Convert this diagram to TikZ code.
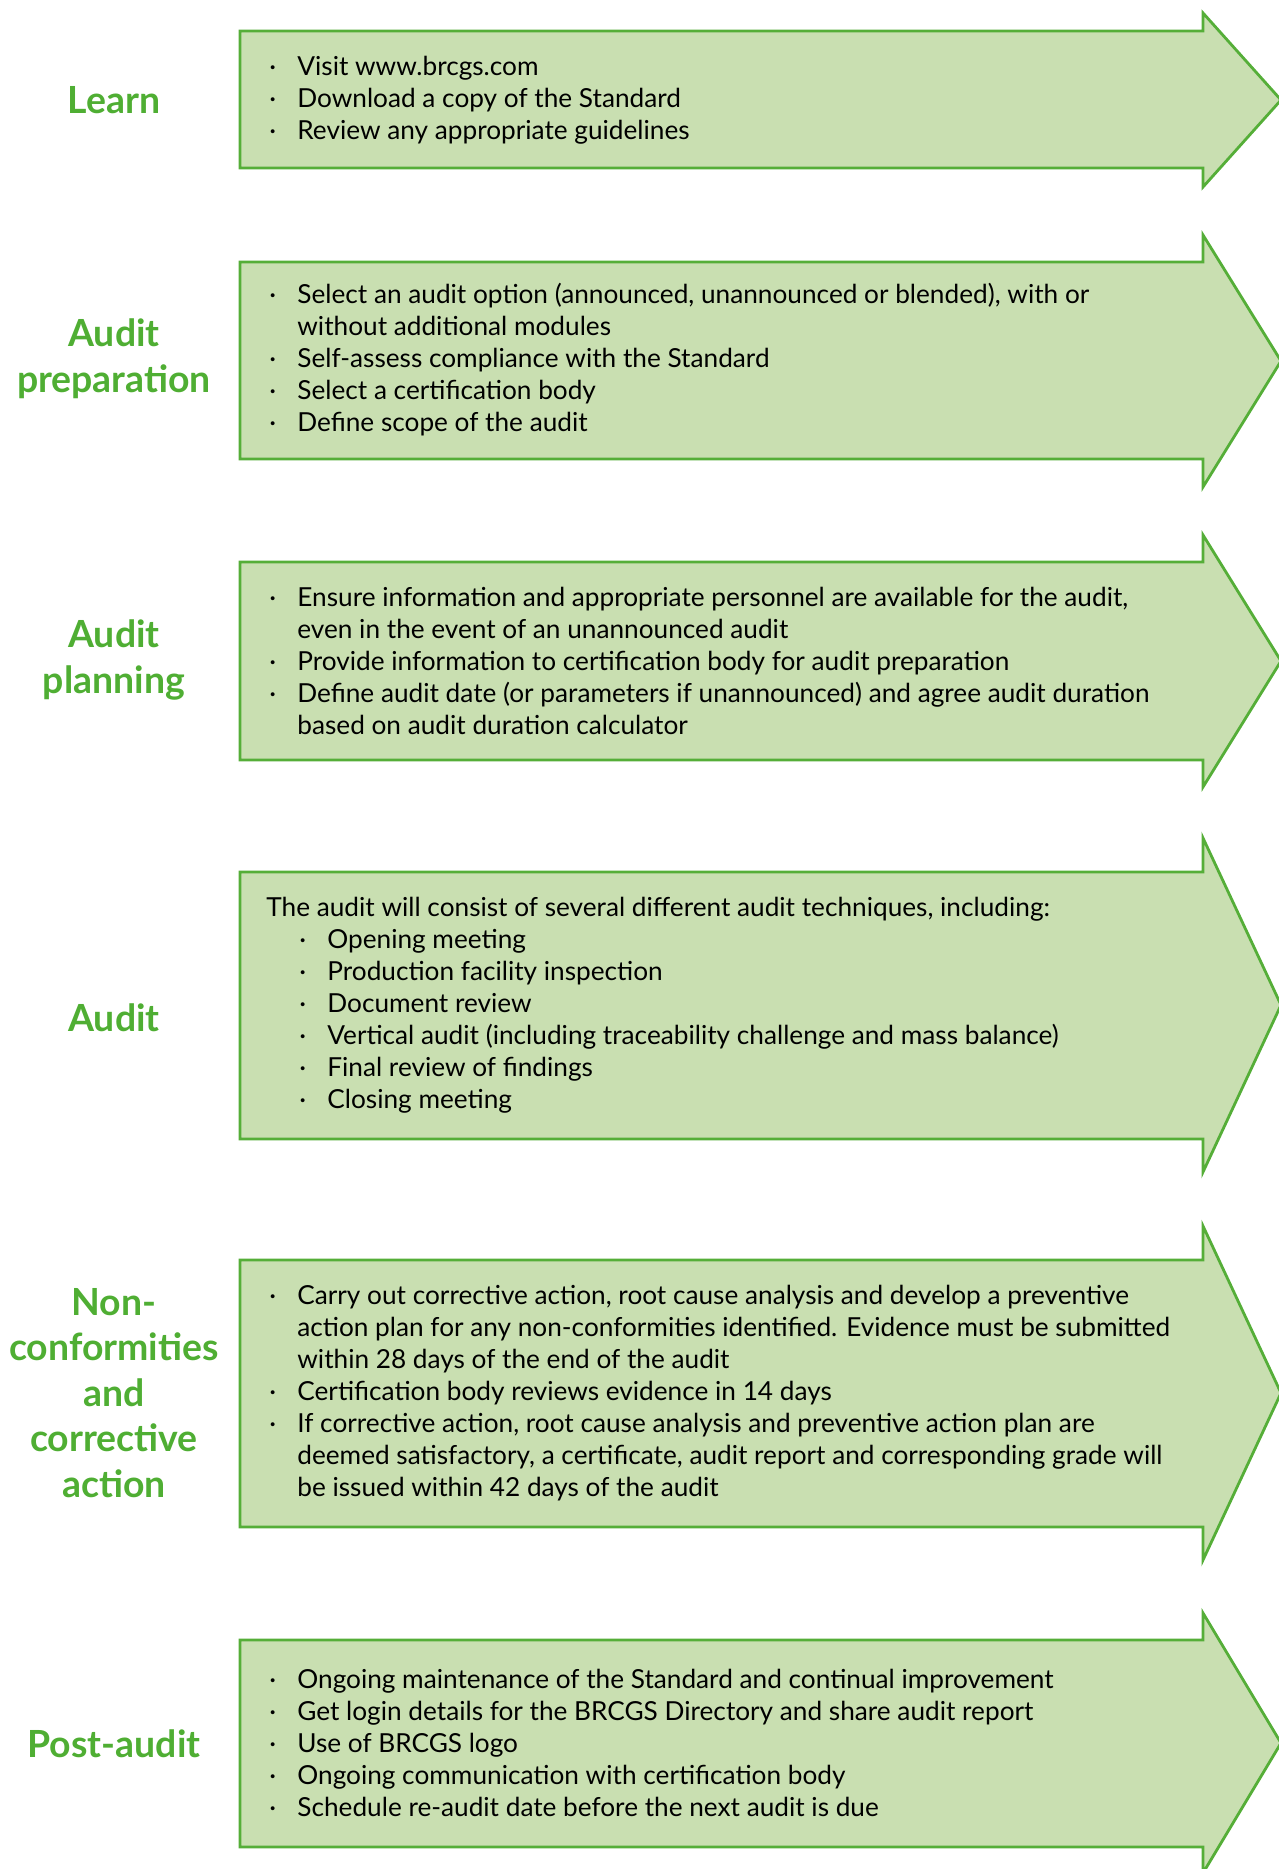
\documentclass[tikz,border=0pt]{standalone}
\usepackage{fontspec}
\setmainfont{Lato}
\usepackage{tikz}
\usetikzlibrary{positioning}

\definecolor{arrowline}{HTML}{55AE38}
\definecolor{arrowfill}{HTML}{C9DFB1}
\definecolor{labelgreen}{HTML}{4FAE33}

\newcommand{\bul}{\makebox[14pt][l]{·}}
\newcommand{\cont}{\hspace*{14pt}}

\begin{document}
\begin{tikzpicture}[x=0.5pt,y=-0.5pt,
  steparrow/.style={draw=arrowline,fill=arrowfill,line width=1.4pt},
  steplabel/.style={text=labelgreen,font=\fontsize{18.7}{22.8}\selectfont\bfseries,align=center},
  steptext/.style={anchor=west,inner sep=0pt,align=left,font=\fontsize{13.1}{16}\selectfont}]
 \useasboundingbox (0,0) rectangle (1279,1869);
 \clip (0,0) rectangle (1279,1869);
 % arrows
 \draw[steparrow] (240,31) -- (1203,31) -- (1203,13) -- (1281,100) -- (1203,187) -- (1203,168) -- (240,168) -- cycle;
 \draw[steparrow] (240,262) -- (1203,262) -- (1203,235) -- (1281,361) -- (1203,487) -- (1203,459) -- (240,459) -- cycle;
 \draw[steparrow] (240,562) -- (1203,562) -- (1203,535) -- (1281,661) -- (1203,787) -- (1203,760) -- (240,760) -- cycle;
 \draw[steparrow] (240,872) -- (1203,872) -- (1203,838) -- (1281,1005) -- (1203,1172) -- (1203,1139) -- (240,1139) -- cycle;
 \draw[steparrow] (240,1260) -- (1203,1260) -- (1203,1226) -- (1281,1393) -- (1203,1560) -- (1203,1527) -- (240,1527) -- cycle;
 \draw[steparrow] (240,1640) -- (1203,1640) -- (1203,1613) -- (1281,1743) -- (1203,1873) -- (1203,1847) -- (240,1847) -- cycle;
 % labels
 \draw (114,100) node[steplabel] (learn) {Learn};
 \draw (114,359) node[steplabel] (prep) {Audit\\preparation};
 \draw (114,660) node[steplabel] (plan) {Audit\\planning};
 \draw (114,1018) node[steplabel] (audit) {Audit};
 \draw (114,1393) node[steplabel] (nonconf) {Non-\\conformities\\and\\corrective\\action};
 \draw (114,1744) node[steplabel] (post) {Post-audit};
 % texts
 \draw (269,100) node[steptext] (learntext) {\bul Visit www.brcgs.com\\
   \bul Download a copy of the Standard\\
   \bul Review any appropriate guidelines};
 \draw (269,360) node[steptext] (preptext) {\bul Select an audit option (announced, unannounced or blended), with or\\
   \cont without additional modules\\
   \bul Self-assess compliance with the Standard\\
   \bul Select a certification body\\
   \bul Define scope of the audit};
 \draw (269,661) node[steptext] (plantext) {\bul Ensure information and appropriate personnel are available for the audit,\\
   \cont even in the event of an unannounced audit\\
   \bul Provide information to certification body for audit preparation\\
   \bul Define audit date (or parameters if unannounced) and agree audit duration\\
   \cont based on audit duration calculator};
 \draw (266,1005) node[steptext] (audittext) {The audit will consist of several different audit techniques, including:\\
   \hspace*{16.5pt}\bul Opening meeting\\
   \hspace*{16.5pt}\bul Production facility inspection\\
   \hspace*{16.5pt}\bul Document review\\
   \hspace*{16.5pt}\bul Vertical audit (including traceability challenge and mass balance)\\
   \hspace*{16.5pt}\bul Final review of findings\\
   \hspace*{16.5pt}\bul Closing meeting};
 \draw (269,1393) node[steptext] (nonconftext) {\bul Carry out corrective action, root cause analysis and develop a preventive\\
   \cont action plan for any non-conformities identified. Evidence must be submitted\\
   \cont within 28 days of the end of the audit\\
   \bul Certification body reviews evidence in 14 days\\
   \bul If corrective action, root cause analysis and preventive action plan are\\
   \cont deemed satisfactory, a certificate, audit report and corresponding grade will\\
   \cont be issued within 42 days of the audit};
 \draw (269,1743) node[steptext] (posttext) {\bul Ongoing maintenance of the Standard and continual improvement\\
   \bul Get login details for the BRCGS Directory and share audit report\\
   \bul Use of BRCGS logo\\
   \bul Ongoing communication with certification body\\
   \bul Schedule re-audit date before the next audit is due};
\end{tikzpicture}
\end{document}
